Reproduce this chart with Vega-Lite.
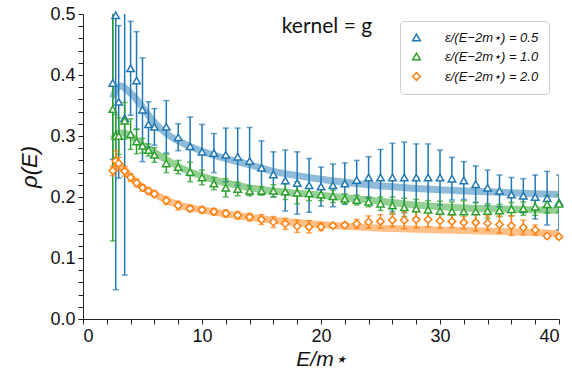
{
  "$schema": "https://vega.github.io/schema/vega-lite/v6.json",
  "width": 476,
  "height": 305,
  "autosize": {"type": "none"},
  "padding": {"left": 83, "top": 14, "right": 13, "bottom": 57},
  "background": "white",
  "config": {
    "view": {"stroke": null},
    "font": "Liberation Sans",
    "axis": {
      "domainColor": "#222",
      "domainWidth": 1,
      "tickColor": "#222",
      "tickWidth": 1,
      "tickSize": 5,
      "labelColor": "#111",
      "labelFont": "Liberation Sans",
      "labelFontSize": 18,
      "titleColor": "#111",
      "titleFont": "Liberation Sans",
      "titleFontStyle": "italic",
      "titleFontWeight": "normal",
      "titleFontSize": 21,
      "grid": false
    }
  },
  "datasets": {
    "pts": [
      {"s": "ε/(E−2m⋆) = 0.5", "x": 2.5, "y": 0.387, "e": 0.125},
      {"s": "ε/(E−2m⋆) = 0.5", "x": 2.75, "y": 0.498, "e": 0.45},
      {"s": "ε/(E−2m⋆) = 0.5", "x": 3.0, "y": 0.356, "e": 0.125},
      {"s": "ε/(E−2m⋆) = 0.5", "x": 3.5, "y": 0.329, "e": 0.257},
      {"s": "ε/(E−2m⋆) = 0.5", "x": 4.0, "y": 0.411, "e": 0.077},
      {"s": "ε/(E−2m⋆) = 0.5", "x": 4.5, "y": 0.391, "e": 0.08},
      {"s": "ε/(E−2m⋆) = 0.5", "x": 5.0, "y": 0.343, "e": 0.085},
      {"s": "ε/(E−2m⋆) = 0.5", "x": 5.5, "y": 0.319, "e": 0.037},
      {"s": "ε/(E−2m⋆) = 0.5", "x": 6, "y": 0.315, "e": 0.03},
      {"s": "ε/(E−2m⋆) = 0.5", "x": 7, "y": 0.315, "e": 0.043},
      {"s": "ε/(E−2m⋆) = 0.5", "x": 8, "y": 0.298, "e": 0.022},
      {"s": "ε/(E−2m⋆) = 0.5", "x": 9, "y": 0.283, "e": 0.048},
      {"s": "ε/(E−2m⋆) = 0.5", "x": 10, "y": 0.274, "e": 0.045},
      {"s": "ε/(E−2m⋆) = 0.5", "x": 11, "y": 0.272, "e": 0.032},
      {"s": "ε/(E−2m⋆) = 0.5", "x": 12, "y": 0.269, "e": 0.044},
      {"s": "ε/(E−2m⋆) = 0.5", "x": 13, "y": 0.266, "e": 0.047},
      {"s": "ε/(E−2m⋆) = 0.5", "x": 14, "y": 0.259, "e": 0.055},
      {"s": "ε/(E−2m⋆) = 0.5", "x": 15, "y": 0.248, "e": 0.044},
      {"s": "ε/(E−2m⋆) = 0.5", "x": 16, "y": 0.237, "e": 0.037},
      {"s": "ε/(E−2m⋆) = 0.5", "x": 17, "y": 0.227, "e": 0.05},
      {"s": "ε/(E−2m⋆) = 0.5", "x": 18, "y": 0.223, "e": 0.051},
      {"s": "ε/(E−2m⋆) = 0.5", "x": 19, "y": 0.219, "e": 0.044},
      {"s": "ε/(E−2m⋆) = 0.5", "x": 20, "y": 0.217, "e": 0.032},
      {"s": "ε/(E−2m⋆) = 0.5", "x": 21, "y": 0.219, "e": 0.035},
      {"s": "ε/(E−2m⋆) = 0.5", "x": 22, "y": 0.222, "e": 0.034},
      {"s": "ε/(E−2m⋆) = 0.5", "x": 23, "y": 0.228, "e": 0.032},
      {"s": "ε/(E−2m⋆) = 0.5", "x": 24, "y": 0.232, "e": 0.034},
      {"s": "ε/(E−2m⋆) = 0.5", "x": 25, "y": 0.232, "e": 0.046},
      {"s": "ε/(E−2m⋆) = 0.5", "x": 26, "y": 0.232, "e": 0.056},
      {"s": "ε/(E−2m⋆) = 0.5", "x": 27, "y": 0.232, "e": 0.058},
      {"s": "ε/(E−2m⋆) = 0.5", "x": 28, "y": 0.232, "e": 0.055},
      {"s": "ε/(E−2m⋆) = 0.5", "x": 29, "y": 0.232, "e": 0.055},
      {"s": "ε/(E−2m⋆) = 0.5", "x": 30, "y": 0.232, "e": 0.045},
      {"s": "ε/(E−2m⋆) = 0.5", "x": 31, "y": 0.23, "e": 0.035},
      {"s": "ε/(E−2m⋆) = 0.5", "x": 32, "y": 0.227, "e": 0.031},
      {"s": "ε/(E−2m⋆) = 0.5", "x": 33, "y": 0.221, "e": 0.03},
      {"s": "ε/(E−2m⋆) = 0.5", "x": 34, "y": 0.215, "e": 0.029},
      {"s": "ε/(E−2m⋆) = 0.5", "x": 35, "y": 0.21, "e": 0.026},
      {"s": "ε/(E−2m⋆) = 0.5", "x": 36, "y": 0.204, "e": 0.028},
      {"s": "ε/(E−2m⋆) = 0.5", "x": 37, "y": 0.202, "e": 0.028},
      {"s": "ε/(E−2m⋆) = 0.5", "x": 38, "y": 0.2, "e": 0.036},
      {"s": "ε/(E−2m⋆) = 0.5", "x": 39, "y": 0.198, "e": 0.044},
      {"s": "ε/(E−2m⋆) = 0.5", "x": 40, "y": 0.191, "e": 0.045},

      {"s": "ε/(E−2m⋆) = 1.0", "x": 2.5, "y": 0.344, "e": 0.216},
      {"s": "ε/(E−2m⋆) = 1.0", "x": 2.75, "y": 0.3, "e": 0.035},
      {"s": "ε/(E−2m⋆) = 1.0", "x": 3.0, "y": 0.3, "e": 0.03},
      {"s": "ε/(E−2m⋆) = 1.0", "x": 3.5, "y": 0.325, "e": 0.03},
      {"s": "ε/(E−2m⋆) = 1.0", "x": 4.0, "y": 0.303, "e": 0.025},
      {"s": "ε/(E−2m⋆) = 1.0", "x": 4.5, "y": 0.291, "e": 0.02},
      {"s": "ε/(E−2m⋆) = 1.0", "x": 5.0, "y": 0.284, "e": 0.012},
      {"s": "ε/(E−2m⋆) = 1.0", "x": 5.5, "y": 0.277, "e": 0.01},
      {"s": "ε/(E−2m⋆) = 1.0", "x": 6, "y": 0.269, "e": 0.012},
      {"s": "ε/(E−2m⋆) = 1.0", "x": 7, "y": 0.255, "e": 0.015},
      {"s": "ε/(E−2m⋆) = 1.0", "x": 8, "y": 0.249, "e": 0.011},
      {"s": "ε/(E−2m⋆) = 1.0", "x": 9, "y": 0.241, "e": 0.016},
      {"s": "ε/(E−2m⋆) = 1.0", "x": 10, "y": 0.232, "e": 0.012},
      {"s": "ε/(E−2m⋆) = 1.0", "x": 11, "y": 0.222, "e": 0.01},
      {"s": "ε/(E−2m⋆) = 1.0", "x": 12, "y": 0.215, "e": 0.015},
      {"s": "ε/(E−2m⋆) = 1.0", "x": 13, "y": 0.213, "e": 0.011},
      {"s": "ε/(E−2m⋆) = 1.0", "x": 14, "y": 0.21, "e": 0.008},
      {"s": "ε/(E−2m⋆) = 1.0", "x": 15, "y": 0.21, "e": 0.007},
      {"s": "ε/(E−2m⋆) = 1.0", "x": 16, "y": 0.21, "e": 0.01},
      {"s": "ε/(E−2m⋆) = 1.0", "x": 17, "y": 0.209, "e": 0.013},
      {"s": "ε/(E−2m⋆) = 1.0", "x": 18, "y": 0.207, "e": 0.018},
      {"s": "ε/(E−2m⋆) = 1.0", "x": 19, "y": 0.206, "e": 0.012},
      {"s": "ε/(E−2m⋆) = 1.0", "x": 20, "y": 0.204, "e": 0.01},
      {"s": "ε/(E−2m⋆) = 1.0", "x": 21, "y": 0.201, "e": 0.01},
      {"s": "ε/(E−2m⋆) = 1.0", "x": 22, "y": 0.197, "e": 0.008},
      {"s": "ε/(E−2m⋆) = 1.0", "x": 23, "y": 0.195, "e": 0.008},
      {"s": "ε/(E−2m⋆) = 1.0", "x": 24, "y": 0.192, "e": 0.008},
      {"s": "ε/(E−2m⋆) = 1.0", "x": 25, "y": 0.189, "e": 0.011},
      {"s": "ε/(E−2m⋆) = 1.0", "x": 26, "y": 0.186, "e": 0.014},
      {"s": "ε/(E−2m⋆) = 1.0", "x": 27, "y": 0.183, "e": 0.015},
      {"s": "ε/(E−2m⋆) = 1.0", "x": 28, "y": 0.181, "e": 0.015},
      {"s": "ε/(E−2m⋆) = 1.0", "x": 29, "y": 0.179, "e": 0.015},
      {"s": "ε/(E−2m⋆) = 1.0", "x": 30, "y": 0.177, "e": 0.016},
      {"s": "ε/(E−2m⋆) = 1.0", "x": 31, "y": 0.176, "e": 0.016},
      {"s": "ε/(E−2m⋆) = 1.0", "x": 32, "y": 0.176, "e": 0.018},
      {"s": "ε/(E−2m⋆) = 1.0", "x": 33, "y": 0.176, "e": 0.015},
      {"s": "ε/(E−2m⋆) = 1.0", "x": 34, "y": 0.177, "e": 0.012},
      {"s": "ε/(E−2m⋆) = 1.0", "x": 35, "y": 0.178, "e": 0.01},
      {"s": "ε/(E−2m⋆) = 1.0", "x": 36, "y": 0.18, "e": 0.011},
      {"s": "ε/(E−2m⋆) = 1.0", "x": 37, "y": 0.181, "e": 0.011},
      {"s": "ε/(E−2m⋆) = 1.0", "x": 38, "y": 0.184, "e": 0.014},
      {"s": "ε/(E−2m⋆) = 1.0", "x": 39, "y": 0.188, "e": 0.014},
      {"s": "ε/(E−2m⋆) = 1.0", "x": 40, "y": 0.189, "e": 0.014},

      {"s": "ε/(E−2m⋆) = 2.0", "x": 2.5, "y": 0.243, "e": 0.008},
      {"s": "ε/(E−2m⋆) = 2.0", "x": 2.75, "y": 0.259, "e": 0.017},
      {"s": "ε/(E−2m⋆) = 2.0", "x": 3.0, "y": 0.255, "e": 0.01},
      {"s": "ε/(E−2m⋆) = 2.0", "x": 3.5, "y": 0.242, "e": 0.008},
      {"s": "ε/(E−2m⋆) = 2.0", "x": 4.0, "y": 0.232, "e": 0.006},
      {"s": "ε/(E−2m⋆) = 2.0", "x": 4.5, "y": 0.223, "e": 0.006},
      {"s": "ε/(E−2m⋆) = 2.0", "x": 5.0, "y": 0.215, "e": 0.005},
      {"s": "ε/(E−2m⋆) = 2.0", "x": 5.5, "y": 0.21, "e": 0.005},
      {"s": "ε/(E−2m⋆) = 2.0", "x": 6, "y": 0.205, "e": 0.005},
      {"s": "ε/(E−2m⋆) = 2.0", "x": 7, "y": 0.194, "e": 0.006},
      {"s": "ε/(E−2m⋆) = 2.0", "x": 8, "y": 0.186, "e": 0.007},
      {"s": "ε/(E−2m⋆) = 2.0", "x": 9, "y": 0.181, "e": 0.005},
      {"s": "ε/(E−2m⋆) = 2.0", "x": 10, "y": 0.179, "e": 0.005},
      {"s": "ε/(E−2m⋆) = 2.0", "x": 11, "y": 0.176, "e": 0.005},
      {"s": "ε/(E−2m⋆) = 2.0", "x": 12, "y": 0.173, "e": 0.006},
      {"s": "ε/(E−2m⋆) = 2.0", "x": 13, "y": 0.17, "e": 0.006},
      {"s": "ε/(E−2m⋆) = 2.0", "x": 14, "y": 0.167, "e": 0.006},
      {"s": "ε/(E−2m⋆) = 2.0", "x": 15, "y": 0.163, "e": 0.008},
      {"s": "ε/(E−2m⋆) = 2.0", "x": 16, "y": 0.159, "e": 0.009},
      {"s": "ε/(E−2m⋆) = 2.0", "x": 17, "y": 0.156, "e": 0.009},
      {"s": "ε/(E−2m⋆) = 2.0", "x": 18, "y": 0.152, "e": 0.01},
      {"s": "ε/(E−2m⋆) = 2.0", "x": 19, "y": 0.151, "e": 0.01},
      {"s": "ε/(E−2m⋆) = 2.0", "x": 20, "y": 0.151, "e": 0.006},
      {"s": "ε/(E−2m⋆) = 2.0", "x": 21, "y": 0.153, "e": 0.003},
      {"s": "ε/(E−2m⋆) = 2.0", "x": 22, "y": 0.154, "e": 0.004},
      {"s": "ε/(E−2m⋆) = 2.0", "x": 23, "y": 0.156, "e": 0.007},
      {"s": "ε/(E−2m⋆) = 2.0", "x": 24, "y": 0.159, "e": 0.01},
      {"s": "ε/(E−2m⋆) = 2.0", "x": 25, "y": 0.16, "e": 0.011},
      {"s": "ε/(E−2m⋆) = 2.0", "x": 26, "y": 0.162, "e": 0.011},
      {"s": "ε/(E−2m⋆) = 2.0", "x": 27, "y": 0.162, "e": 0.014},
      {"s": "ε/(E−2m⋆) = 2.0", "x": 28, "y": 0.163, "e": 0.014},
      {"s": "ε/(E−2m⋆) = 2.0", "x": 29, "y": 0.163, "e": 0.012},
      {"s": "ε/(E−2m⋆) = 2.0", "x": 30, "y": 0.161, "e": 0.012},
      {"s": "ε/(E−2m⋆) = 2.0", "x": 31, "y": 0.16, "e": 0.01},
      {"s": "ε/(E−2m⋆) = 2.0", "x": 32, "y": 0.158, "e": 0.01},
      {"s": "ε/(E−2m⋆) = 2.0", "x": 33, "y": 0.158, "e": 0.014},
      {"s": "ε/(E−2m⋆) = 2.0", "x": 34, "y": 0.157, "e": 0.012},
      {"s": "ε/(E−2m⋆) = 2.0", "x": 35, "y": 0.155, "e": 0.014},
      {"s": "ε/(E−2m⋆) = 2.0", "x": 36, "y": 0.153, "e": 0.016},
      {"s": "ε/(E−2m⋆) = 2.0", "x": 37, "y": 0.15, "e": 0.012},
      {"s": "ε/(E−2m⋆) = 2.0", "x": 38, "y": 0.146, "e": 0.008},
      {"s": "ε/(E−2m⋆) = 2.0", "x": 39, "y": 0.136, "e": 0.004},
      {"s": "ε/(E−2m⋆) = 2.0", "x": 40, "y": 0.135, "e": 0.004}
    ],
    "band": [
      {"s": "0.5", "x": 2.5, "y": 0.362},
      {"s": "0.5", "x": 2.75, "y": 0.375},
      {"s": "0.5", "x": 3.0, "y": 0.381},
      {"s": "0.5", "x": 3.25, "y": 0.382},
      {"s": "0.5", "x": 3.5, "y": 0.379},
      {"s": "0.5", "x": 4, "y": 0.37},
      {"s": "0.5", "x": 4.5, "y": 0.36},
      {"s": "0.5", "x": 5, "y": 0.347},
      {"s": "0.5", "x": 5.5, "y": 0.334},
      {"s": "0.5", "x": 6, "y": 0.322},
      {"s": "0.5", "x": 7, "y": 0.304},
      {"s": "0.5", "x": 8, "y": 0.292},
      {"s": "0.5", "x": 9, "y": 0.283},
      {"s": "0.5", "x": 10, "y": 0.275},
      {"s": "0.5", "x": 12, "y": 0.263},
      {"s": "0.5", "x": 14, "y": 0.253},
      {"s": "0.5", "x": 16, "y": 0.242},
      {"s": "0.5", "x": 18, "y": 0.235},
      {"s": "0.5", "x": 20, "y": 0.229},
      {"s": "0.5", "x": 24, "y": 0.22},
      {"s": "0.5", "x": 28, "y": 0.214},
      {"s": "0.5", "x": 32, "y": 0.21},
      {"s": "0.5", "x": 36, "y": 0.207},
      {"s": "0.5", "x": 40, "y": 0.204},

      {"s": "1.0", "x": 2.5, "y": 0.295},
      {"s": "1.0", "x": 2.75, "y": 0.301},
      {"s": "1.0", "x": 3.0, "y": 0.305},
      {"s": "1.0", "x": 3.5, "y": 0.305},
      {"s": "1.0", "x": 4, "y": 0.3},
      {"s": "1.0", "x": 4.5, "y": 0.293},
      {"s": "1.0", "x": 5, "y": 0.285},
      {"s": "1.0", "x": 6, "y": 0.273},
      {"s": "1.0", "x": 7, "y": 0.261},
      {"s": "1.0", "x": 8, "y": 0.25},
      {"s": "1.0", "x": 10, "y": 0.234},
      {"s": "1.0", "x": 12, "y": 0.223},
      {"s": "1.0", "x": 14, "y": 0.215},
      {"s": "1.0", "x": 16, "y": 0.21},
      {"s": "1.0", "x": 20, "y": 0.203},
      {"s": "1.0", "x": 24, "y": 0.195},
      {"s": "1.0", "x": 28, "y": 0.187},
      {"s": "1.0", "x": 32, "y": 0.182},
      {"s": "1.0", "x": 36, "y": 0.18},
      {"s": "1.0", "x": 40, "y": 0.178},

      {"s": "2.0", "x": 2.5, "y": 0.244},
      {"s": "2.0", "x": 2.75, "y": 0.252},
      {"s": "2.0", "x": 3.0, "y": 0.254},
      {"s": "2.0", "x": 3.5, "y": 0.245},
      {"s": "2.0", "x": 4, "y": 0.233},
      {"s": "2.0", "x": 4.5, "y": 0.224},
      {"s": "2.0", "x": 5, "y": 0.216},
      {"s": "2.0", "x": 6, "y": 0.205},
      {"s": "2.0", "x": 7, "y": 0.195},
      {"s": "2.0", "x": 8, "y": 0.187},
      {"s": "2.0", "x": 10, "y": 0.179},
      {"s": "2.0", "x": 12, "y": 0.172},
      {"s": "2.0", "x": 14, "y": 0.167},
      {"s": "2.0", "x": 16, "y": 0.162},
      {"s": "2.0", "x": 20, "y": 0.155},
      {"s": "2.0", "x": 24, "y": 0.15},
      {"s": "2.0", "x": 28, "y": 0.147},
      {"s": "2.0", "x": 32, "y": 0.145},
      {"s": "2.0", "x": 36, "y": 0.143},
      {"s": "2.0", "x": 40, "y": 0.14}
    ],
    "note": [
      {"label": "kernel = g", "x": 20.5, "y": 0.469}
    ]
  },
  "encoding": {
    "x": {
      "field": "x", "type": "quantitative",
      "scale": {"domain": [0, 40], "nice": false, "zero": false},
      "axis": {
        "title": "E/m⋆",
        "values": [0,2,4,6,8,10,12,14,16,18,20,22,24,26,28,30,32,34,36,38,40],
        "labelExpr": "datum.value % 10 === 0 ? datum.label : ''",
        "labelPadding": 3,
        "titlePadding": 3
      }
    },
    "y": {
      "field": "y", "type": "quantitative",
      "scale": {"domain": [0, 0.5], "nice": false},
      "axis": {
        "title": "ρ(E)",
        "titleFontSize": 22,
        "values": [0,0.02,0.04,0.06,0.08,0.1,0.12,0.14,0.16,0.18,0.2,0.22,0.24,0.26,0.28,0.3,0.32,0.34,0.36,0.38,0.4,0.42,0.44,0.46,0.48,0.5],
        "labelExpr": "abs(datum.value*10 - round(datum.value*10)) < 0.000001 ? format(datum.value, '.1f') : ''",
        "labelPadding": 3,
        "titlePadding": 8
      }
    }
  },
  "layer": [
    {
      "data": {"name": "band"},
      "transform": [{"filter": "datum.s === '0.5'"}],
      "mark": {"type": "line", "interpolate": "monotone", "strokeWidth": 7, "color": "#1f77b4", "strokeOpacity": 0.5, "clip": true, "strokeCap": "butt"},
      "encoding": {}
    },
    {
      "data": {"name": "band"},
      "transform": [{"filter": "datum.s === '1.0'"}],
      "mark": {"type": "line", "interpolate": "monotone", "strokeWidth": 7, "color": "#2ca02c", "strokeOpacity": 0.5, "clip": true, "strokeCap": "butt"},
      "encoding": {}
    },
    {
      "data": {"name": "band"},
      "transform": [{"filter": "datum.s === '2.0'"}],
      "mark": {"type": "line", "interpolate": "monotone", "strokeWidth": 7, "color": "#ff7f0e", "strokeOpacity": 0.5, "clip": true, "strokeCap": "butt"},
      "encoding": {}
    },
    {
      "data": {"name": "pts"},
      "transform": [{"filter": "datum.s === 'ε/(E−2m⋆) = 0.5'"}],
      "mark": {"type": "errorbar", "ticks": true, "size": 6, "thickness": 1.5, "clip": true, "color": "#1f77b4"},
      "encoding": {"yError": {"field": "e"}}
    },
    {
      "data": {"name": "pts"},
      "transform": [{"filter": "datum.s === 'ε/(E−2m⋆) = 1.0'"}],
      "mark": {"type": "errorbar", "ticks": true, "size": 6, "thickness": 1.5, "clip": true, "color": "#2ca02c"},
      "encoding": {"yError": {"field": "e"}}
    },
    {
      "data": {"name": "pts"},
      "transform": [{"filter": "datum.s === 'ε/(E−2m⋆) = 2.0'"}],
      "mark": {"type": "errorbar", "ticks": true, "size": 6, "thickness": 1.5, "clip": true, "color": "#ff7f0e"},
      "encoding": {"yError": {"field": "e"}}
    },
    {
      "data": {"name": "pts"},
      "mark": {"type": "point", "filled": false, "fill": "white", "fillOpacity": 1, "strokeWidth": 1.5, "size": 55, "opacity": 1},
      "encoding": {
        "color": {"field": "s", "type": "nominal",
          "scale": {"domain": ["ε/(E−2m⋆) = 0.5", "ε/(E−2m⋆) = 1.0", "ε/(E−2m⋆) = 2.0"], "range": ["#1f77b4", "#2ca02c", "#ff7f0e"]},
          "legend": {
            "title": null,
            "orient": "none",
            "legendX": 317,
            "legendY": 7,
            "padding": 10,
            "fillColor": "white",
            "strokeColor": "#cccccc",
            "cornerRadius": 4,
            "labelFont": "Liberation Sans",
            "labelFontSize": 13,
            "labelFontStyle": "italic",
            "labelColor": "#111",
            "labelOffset": 22,
            "rowPadding": 5,
            "symbolSize": 60,
            "symbolStrokeWidth": 1.5,
            "symbolFillColor": "white",
            "symbolOpacity": 1
          }},
        "shape": {"field": "s", "type": "nominal",
          "scale": {"domain": ["ε/(E−2m⋆) = 0.5", "ε/(E−2m⋆) = 1.0", "ε/(E−2m⋆) = 2.0"], "range": ["triangle-up", "triangle-up", "diamond"]},
          "legend": {"title": null, "orient": "none", "legendX": 317, "legendY": 7}}
      }
    },
    {
      "data": {"name": "note"},
      "mark": {"type": "text", "font": "Lato", "fontSize": 21, "align": "center", "baseline": "alphabetic", "color": "#111"},
      "encoding": {
        "text": {"field": "label"}
      }
    }
  ]
}
